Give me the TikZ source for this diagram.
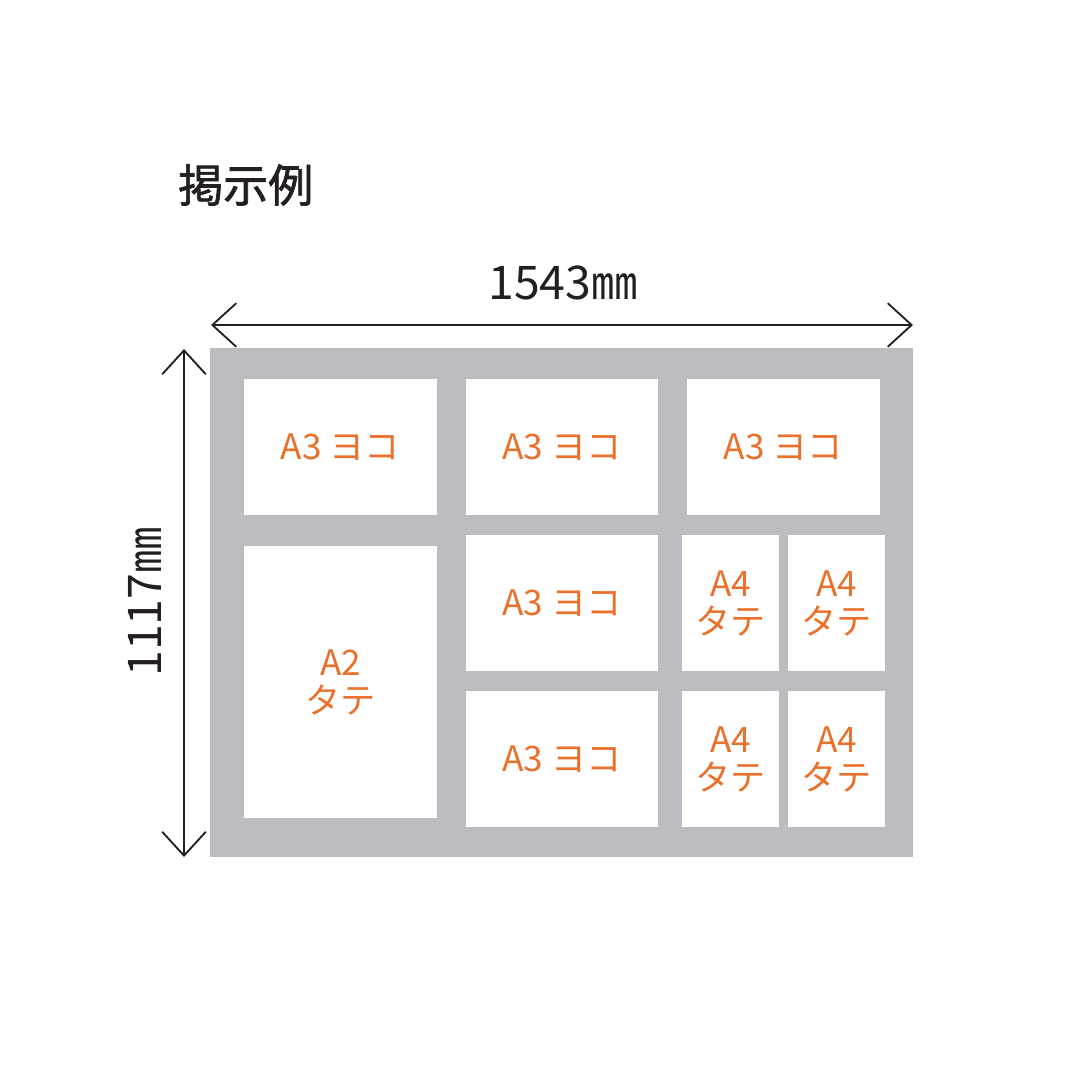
\documentclass[tikz,border=0pt]{standalone}
\usepackage{fontspec}
\setmainfont{Noto Sans CJK JP}
\newfontfamily\titlefont[FakeBold=1.5]{Noto Sans CJK JP}
\usepackage{xcolor}
\usetikzlibrary{arrows.meta}
\definecolor{boardgray}{RGB}{188, 189, 192}
\definecolor{sheetorange}{RGB}{234, 113, 44}
\definecolor{inkdark}{RGB}{35, 31, 32}

\tikzset{
  sheet/.style={fill=white, inner sep=0pt, text=sheetorange, align=center,
    font=\fontsize{25}{27}\selectfont},
  dimline/.style={inkdark, line width=1.3pt,
    {Straight Barb[length=17pt, width=31pt, line width=1.3pt]}-{Straight Barb[length=17pt, width=31pt, line width=1.3pt]}},
  dimlabel/.style={inkdark, inner sep=0pt, font=\fontsize{33}{33}\selectfont}
}

% sheet: name, x1, y1, x2, y2, text
\newcommand{\sheetbox}[6]{%
  \node[sheet, minimum width={(#4-#2)*0.025cm}, minimum height={(#5-#3)*0.025cm}]
    (#1) at ({(#2+#4)/2},{(#3+#5)/2}) {#6};}

\begin{document}
\begin{tikzpicture}[x=0.025cm, y=-0.025cm]
  \useasboundingbox[fill=white] (0,0) rectangle (1080,1080);

  % Title
  \node[anchor=west, inkdark, inner sep=0pt, font=\fontsize{32}{32}\selectfont\titlefont]
    (title) at (178,185) {掲示例};

  % Board
  \node[fill=boardgray, inner sep=0pt, minimum width={703*0.025cm}, minimum height={509*0.025cm}]
    (board) at (561.5,602.5) {};

  % Top row
  \sheetbox{topleft}{244}{379}{437}{515}{A3 ヨコ}
  \sheetbox{topmid}{466}{379}{658}{515}{A3 ヨコ}
  \sheetbox{topright}{687}{379}{880}{515}{A3 ヨコ}

  % Left column
  \sheetbox{bigleft}{244}{546}{437}{818}{A2\\タテ}

  % Middle column
  \sheetbox{midup}{466}{535}{658}{671}{A3 ヨコ}
  \sheetbox{midlow}{466}{691}{658}{827}{A3 ヨコ}

  % Right column, A4
  \foreach \r/\ya/\yb in {up/535/671, low/691/827} {
    \sheetbox{a4left\r}{682}{\ya}{779}{\yb}{A4\\タテ}
    \sheetbox{a4right\r}{788}{\ya}{885}{\yb}{A4\\タテ}
  }

  % Dimensions
  \coordinate (wleft) at (211,325);
  \coordinate (wright) at (913,325);
  \coordinate (htop) at (184,349);
  \coordinate (hbot) at (184,857);
  \draw[dimline] (wleft) -- (wright);
  \draw[dimline] (htop) -- (hbot);
  \node[dimlabel] (width) at (563,283) {1543㎜};
  \node[dimlabel, rotate=90] (height) at (145,602) {1117㎜};
\end{tikzpicture}
\end{document}
